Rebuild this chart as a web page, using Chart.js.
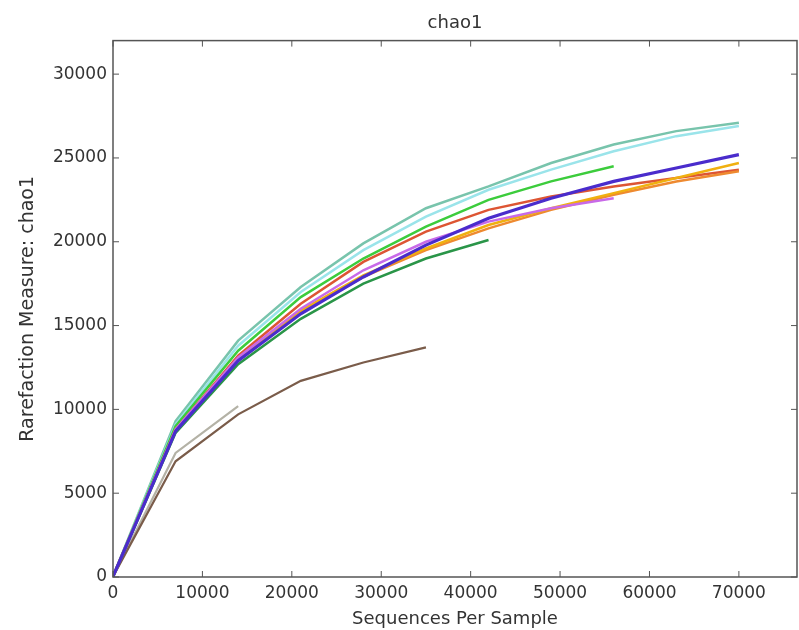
<!DOCTYPE html>
<html lang="en">
<head>
  <meta charset="UTF-8">
  <title>chao1</title>
  <script src="https://cdn.jsdelivr.net/npm/chart.js"></script>
  <style>
    html, body { margin: 0; padding: 0; background: #fff; }
    canvas { display: block; }
  </style>
</head>
<body>
<canvas id="chart" width="799" height="630"></canvas>

<script>
// rarefaction depths
const depths = [10, 7000, 14000, 21000, 28000, 35000, 42000, 49000, 56000, 63000, 70000];

const xTicks = [0, 10000, 20000, 30000, 40000, 50000, 60000, 70000];
const yTicks = [0, 5000, 10000, 15000, 20000, 25000, 30000];

// chao1 per sample (shorter arrays = sample ran out of sequences)
const purple    = [40, 8700, 12900, 15700, 17900, 19800, 21400, 22600, 23600, 24400, 25200];
const teal      = [40, 9300, 14100, 17300, 19900, 22000, 23300, 24700, 25800, 26600, 27100];
const cyan      = [40, 9100, 13800, 17000, 19500, 21500, 23100, 24300, 25400, 26300, 26900];
const lime      = [40, 9000, 13500, 16700, 19000, 20900, 22500, 23600, 24500];
const red       = [40, 8800, 13200, 16300, 18800, 20600, 21900, 22700, 23300, 23800, 24300];
const violet    = [40, 8800, 13100, 16000, 18300, 20000, 21200, 22000, 22600];
const gold      = [40, 8800, 13000, 15900, 18000, 19600, 21000, 22000, 22900, 23800, 24700];
const orange    = [40, 8700, 12900, 15800, 17900, 19500, 20800, 21900, 22800, 23600, 24200];
const darkGreen = [40, 8600, 12700, 15400, 17500, 19000, 20100];
const brown     = [30, 6900, 9700, 11700, 12800, 13700];
const grey      = [30, 7400, 10200];

const series = [
  { data: purple,    color: '#4a2ccc', width: 3.2 },
  { data: darkGreen, color: '#2a9548', width: 2.5 },
  { data: violet,    color: '#c86ae8', width: 2.5 },
  { data: gold,      color: '#f0b010', width: 2.5 },
  { data: orange,    color: '#ee8a30', width: 2.5 },
  { data: red,       color: '#dd5533', width: 2.5 },
  { data: lime,      color: '#3ccc3c', width: 2.5 },
  { data: cyan,      color: '#9ae4ea', width: 2.5 },
  { data: teal,      color: '#78c4ac', width: 2.5 },
  { data: brown,     color: '#7a5c4a', width: 2.2 },
  { data: grey,      color: '#b4b2a6', width: 2.2 },
];

const axisColor = '#555';
const textColor = '#333';

// frame on all four sides plus inward ticks, like the matplotlib classic style
const framePlugin = {
  id: 'frame',
  afterDraw(chart) {
    const { ctx, chartArea: a, scales } = chart;
    ctx.save();
    ctx.strokeStyle = axisColor;
    ctx.lineWidth = 1.5;
    ctx.strokeRect(a.left, a.top, a.right - a.left, a.bottom - a.top);
    ctx.lineWidth = 1;
    const len = 6;
    ctx.beginPath();
    xTicks.forEach(v => {
      const x = scales.x.getPixelForValue(v);
      ctx.moveTo(x, a.bottom); ctx.lineTo(x, a.bottom - len);
      ctx.moveTo(x, a.top); ctx.lineTo(x, a.top + len);
    });
    yTicks.forEach(v => {
      const y = scales.y.getPixelForValue(v);
      ctx.moveTo(a.left, y); ctx.lineTo(a.left + len, y);
      ctx.moveTo(a.right, y); ctx.lineTo(a.right - len, y);
    });
    ctx.stroke();
    ctx.restore();
  }
};

new Chart(document.getElementById('chart'), {
  type: 'line',
  data: {
    datasets: series.map(s => ({
      data: s.data.map((y, i) => ({ x: depths[i], y })),
      borderColor: s.color,
      borderWidth: s.width,
      pointRadius: 0,
      tension: 0,
      fill: false,
    }))
  },
  options: {
    responsive: false,
    animation: false,
    layout: { padding: { left: 0, right: 2, top: 0, bottom: 0 } },
    plugins: {
      legend: { display: false },
      tooltip: { enabled: false },
      title: {
        display: true,
        fullSize: false,
        text: 'chao1',
        color: textColor,
        font: { family: 'DejaVu Sans', size: 18, weight: 'normal' },
        padding: { top: 13, bottom: 6 },
      },
    },
    scales: {
      x: {
        type: 'linear',
        min: 0,
        max: 76500,
        afterFit: s => { s.height = 53; },
        afterBuildTicks: s => { s.ticks = xTicks.map(v => ({ value: v })); },
        grid: { display: false, drawTicks: false },
        border: { display: false },
        ticks: {
          color: textColor,
          padding: 6,
          maxRotation: 0,
          font: { family: 'DejaVu Sans', size: 17 },
          callback: v => String(v),
        },
        title: {
          display: true,
          text: 'Sequences Per Sample',
          color: textColor,
          font: { family: 'DejaVu Sans', size: 18 },
          padding: { top: 0, bottom: 0 },
        },
      },
      y: {
        type: 'linear',
        min: 0,
        max: 32000,
        afterFit: s => { s.width = 113; },
        afterBuildTicks: s => { s.ticks = yTicks.map(v => ({ value: v })); },
        grid: { display: false, drawTicks: false },
        border: { display: false },
        ticks: {
          color: textColor,
          padding: 6,
          font: { family: 'DejaVu Sans', size: 17 },
          callback: v => String(v),
        },
        title: {
          display: true,
          text: 'Rarefaction Measure: chao1',
          color: textColor,
          font: { family: 'DejaVu Sans', size: 19 },
          padding: { top: 17, bottom: 0 },
        },
      },
    },
  },
  plugins: [framePlugin],
});
</script>
</body>
</html>
